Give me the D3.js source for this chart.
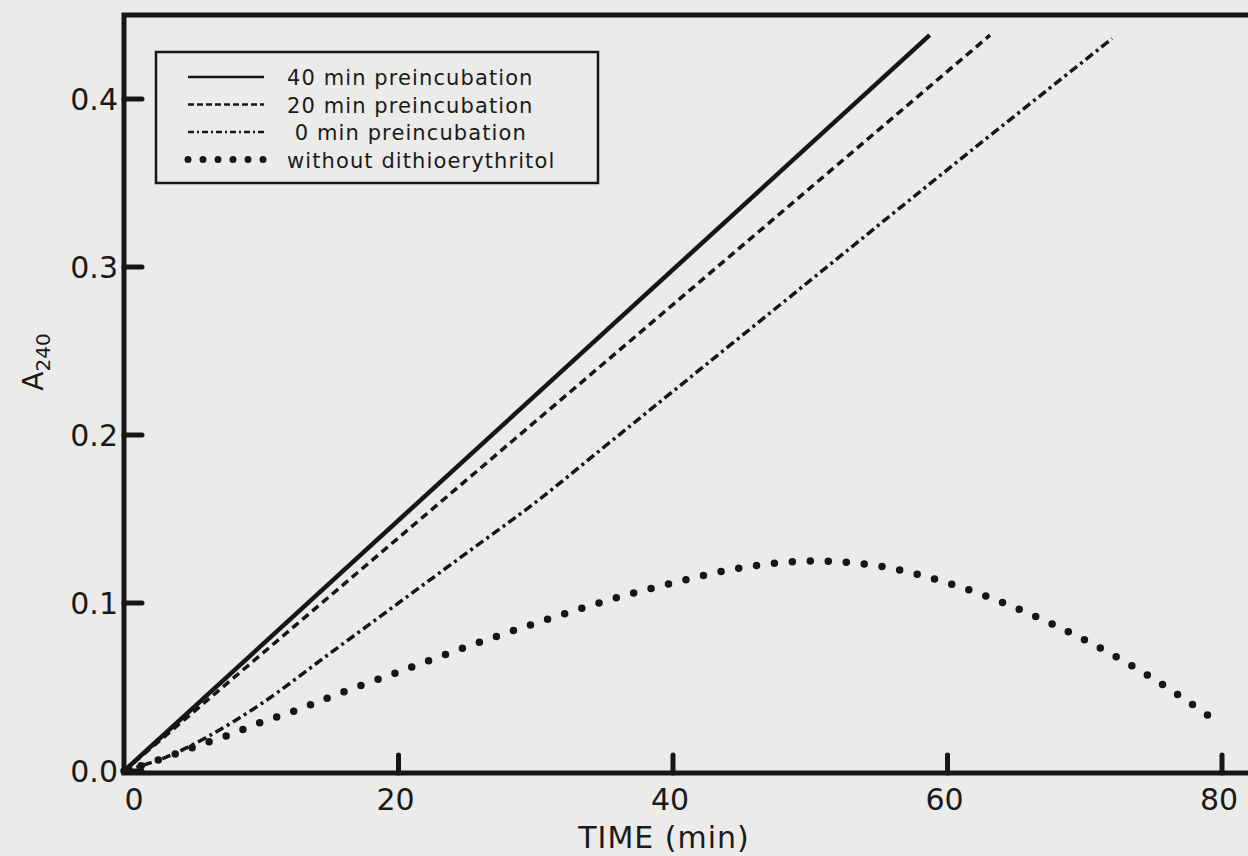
<!DOCTYPE html>
<html>
<head>
<meta charset="utf-8">
<script src="https://cdn.jsdelivr.net/npm/d3@7"></script>
<style>
  html, body { margin: 0; padding: 0; background: #ebebe9; }
  svg { display: block; }
  text { font-family: "DejaVu Sans", sans-serif; fill: #1a1a1a; }
</style>
</head>
<body>
<svg id="chart" width="1248" height="856"></svg>
<script>
// values (time in min, absorbance at 240 nm)
const xTicks = [0, 20, 40, 60, 80];
const yTicks = [0.0, 0.1, 0.2, 0.3, 0.4];

const pre40Time = [0, 58.7];
const pre40Abs  = [0, 0.438];

const pre20Time = [0, 63.1];
const pre20Abs  = [0, 0.438];

const pre0Time = [0, 3, 6, 10, 15, 20, 25, 30, 35, 40, 50, 60, 72];
const pre0Abs  = [0, 0.008, 0.02, 0.04, 0.07, 0.1, 0.13, 0.16, 0.193, 0.226, 0.292, 0.358, 0.436];

const noDteTime = [0, 2.5, 5, 7.5, 10, 12.5, 15, 20, 25, 30, 35, 40, 45, 50, 55, 60, 65, 70, 75, 79.7];
const noDteAbs  = [0, 0.0065, 0.014, 0.021, 0.029, 0.036, 0.044, 0.059, 0.074, 0.088, 0.101, 0.112, 0.121, 0.125, 0.122, 0.112, 0.097, 0.078, 0.055, 0.029];

const legendLabels = ["40 min preincubation", "20 min preincubation", " 0 min preincubation", "without dithioerythritol"];

const svg = d3.select("#chart");
const x = d3.scaleLinear().domain([0, 80]).range([124, 1222]);
const y = d3.scaleLinear().domain([0, 0.4]).range([771, 99]);
const yTop = 0.45;
const xRight = 82.5;

const ink = "#161616";

// frame: left axis, bottom axis, top border
svg.append("path")
  .attr("d", `M${x(xRight)},${y(yTop)} L${x(0)},${y(yTop)} L${x(0)},${y(0) + 2} L${x(xRight)},${y(0) + 2}`)
  .attr("fill", "none").attr("stroke", ink).attr("stroke-width", 5);

// y axis ticks (inward) and labels
const yg = svg.append("g");
yg.selectAll("line").data(yTicks).join("line")
  .attr("x1", x(0)).attr("x2", x(0) + 18)
  .attr("y1", d => y(d)).attr("y2", d => y(d))
  .attr("stroke", ink).attr("stroke-width", 5).attr("stroke-linecap", "round");
yg.selectAll("text").data(yTicks).join("text")
  .attr("x", 118).attr("y", d => y(d) + 11)
  .attr("text-anchor", "end").attr("font-size", 30)
  .text(d => d.toFixed(1));

// x axis ticks (inward) and labels
const xg = svg.append("g");
xg.selectAll("line").data(xTicks.slice(1)).join("line")
  .attr("x1", d => x(d)).attr("x2", d => x(d))
  .attr("y1", y(0) + 2).attr("y2", y(0) - 16)
  .attr("stroke", ink).attr("stroke-width", 5).attr("stroke-linecap", "round");
xg.selectAll("text").data(xTicks).join("text")
  .attr("x", d => x(d) + (d === 0 ? 10 : -3)).attr("y", 810)
  .attr("text-anchor", "middle").attr("font-size", 30)
  .text(d => d);

// axis titles
svg.append("text").attr("x", 664).attr("y", 848)
  .attr("text-anchor", "middle").attr("font-size", 30).attr("letter-spacing", 1)
  .text("TIME (min)");
const yt = svg.append("text")
  .attr("transform", "translate(43,362) rotate(-90)")
  .attr("text-anchor", "middle").attr("font-size", 28);
yt.append("tspan").text("A");
yt.append("tspan").attr("font-size", 20).attr("dy", 7).text("240");

// series
const line = d3.line().x(d => x(d[0])).y(d => y(d[1]));
const curve = d3.line().x(d => x(d[0])).y(d => y(d[1])).curve(d3.curveCatmullRom);
const zip = (a, b) => a.map((v, i) => [v, b[i]]);

svg.append("path").datum(zip(pre40Time, pre40Abs)).attr("d", line)
  .attr("fill", "none").attr("stroke", ink).attr("stroke-width", 4.5);
svg.append("path").datum(zip(pre20Time, pre20Abs)).attr("d", line)
  .attr("fill", "none").attr("stroke", ink).attr("stroke-width", 3.5)
  .attr("stroke-dasharray", "8 5");
svg.append("path").datum(zip(pre0Time, pre0Abs)).attr("d", curve)
  .attr("fill", "none").attr("stroke", ink).attr("stroke-width", 3.5)
  .attr("stroke-dasharray", "9 4 3 4");
svg.append("path").datum(zip(noDteTime, noDteAbs)).attr("d", curve)
  .attr("fill", "none").attr("stroke", ink).attr("stroke-width", 7.5)
  .attr("stroke-dasharray", "0 18").attr("stroke-linecap", "round");

// legend box
const lg = svg.append("g");
lg.append("rect").attr("x", 156).attr("y", 52).attr("width", 442).attr("height", 131)
  .attr("fill", "none").attr("stroke", ink).attr("stroke-width", 2.5);
legendLabels.forEach((lab, i) => {
  const ly = 77 + i * 27.5;
  lg.append("line").attr("x1", 188).attr("x2", 264).attr("y1", ly).attr("y2", ly)
    .attr("stroke", ink).attr("stroke-width", i === 3 ? 7 : 2.5)
    .attr("stroke-dasharray", i === 1 ? "6 3" : i === 2 ? "6 3 2 3" : i === 3 ? "0 15" : null)
    .attr("stroke-linecap", i === 3 ? "round" : "butt");
  lg.append("text").attr("x", 287).attr("y", ly + 8).attr("font-size", 21)
    .attr("letter-spacing", 1.1).style("white-space", "pre")
    .text(lab);
});
</script>
</body>
</html>
